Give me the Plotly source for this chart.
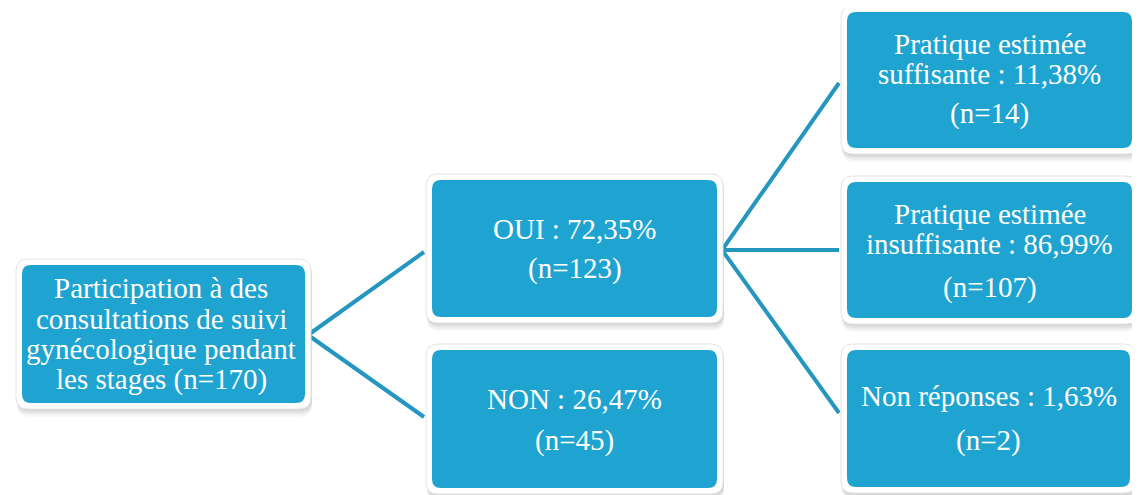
import plotly.graph_objects as go

# ---- data ----
root_lines = ["Participation à des", "consultations de suivi", "gynécologique pendant", "les stages"]
root_n = 170

level1_labels = ["OUI", "NON"]
level1_pct = [72.35, 26.47]
level1_n = [123, 45]

level2_prefix = ["Pratique estimée", "Pratique estimée", None]
level2_labels = ["suffisante", "insuffisante", "Non réponses"]
level2_pct = [11.38, 86.99, 1.63]
level2_n = [14, 107, 2]


def fr(v):
    return f"{v:.2f}".replace(".", ",")


W, H = 1140, 495
OFF = 8  # compensate default page body margin
BLUE = "#1fa3d0"
LINE = "#2496bf"
FONT = "Liberation Serif, Times New Roman, serif"

fig = go.Figure()
shapes = []
annotations = []


def rrect(x0, y0, x1, y1, r):
    return (f"M {x0+r},{y0} L {x1-r},{y0} Q {x1},{y0} {x1},{y0+r} "
            f"L {x1},{y1-r} Q {x1},{y1} {x1-r},{y1} L {x0+r},{y1} "
            f"Q {x0},{y1} {x0},{y1-r} L {x0},{y0+r} Q {x0},{y0} {x0+r},{y0} Z")


def box(x0, y0, x1, y1):
    # soft shadow
    for d, op in [(8, 0.05), (6, 0.07), (4, 0.09), (2, 0.10)]:
        shapes.append(dict(type="path", path=rrect(x0 - 6 + 1, y0 - 6 + d, x1 + 6 + 1, y1 + 6 + d, 12),
                           fillcolor=f"rgba(110,110,110,{op})", line=dict(width=0), layer="below"))
    # white frame
    shapes.append(dict(type="path", path=rrect(x0 - 6, y0 - 6, x1 + 6, y1 + 6, 12),
                       fillcolor="white", line=dict(color="#e4e4e4", width=1), layer="below"))
    shapes.append(dict(type="path", path=rrect(x0, y0, x1, y1, 9),
                       fillcolor=BLUE, line=dict(width=0), layer="below"))


def text(lines, xc, ys):
    for t, y in zip(lines, ys):
        annotations.append(dict(x=xc, y=y, xref="x", yref="y", text=t, showarrow=False,
                                xanchor="center", yanchor="middle",
                                font=dict(family=FONT, size=29, color="white")))


def connector(x0, y0, x1, y1):
    shapes.append(dict(type="line", x0=x0, y0=y0, x1=x1, y1=y1, xref="x", yref="y",
                       line=dict(color=LINE, width=4), layer="below"))


# connectors (drawn first so boxes sit on top)
connector(308, 335, 424, 252)
connector(308, 335, 424, 417)
connector(722, 250, 839, 83)
connector(722, 250, 839, 250)
connector(722, 250, 839, 413)

# root box
box(22, 265, 305, 403)
rl = root_lines[:-1] + [f"{root_lines[-1]} (n={root_n})"]
text(rl, 161, [288, 319, 349, 379])

# level 1
l1_boxes = [(432, 180, 717, 317), (432, 350, 717, 488)]
l1_ys = [[229, 268], [399, 440]]
for (x0, y0, x1, y1), lab, p, n, ys in zip(l1_boxes, level1_labels, level1_pct, level1_n, l1_ys):
    box(x0, y0, x1, y1)
    text([f"{lab} : {fr(p)}%", f"(n={n})"], (x0 + x1) / 2, ys)

# level 2
l2_boxes = [(847, 12, 1132, 148), (847, 182, 1132, 318), (847, 350, 1130, 487)]
l2_ys = [[44, 74, 113], [214, 244, 287], [396, 440]]
for (x0, y0, x1, y1), pre, lab, p, n, ys in zip(l2_boxes, level2_prefix, level2_labels, level2_pct, level2_n, l2_ys):
    box(x0, y0, x1, y1)
    lines = ([pre] if pre else []) + [f"{lab} : {fr(p)}%", f"(n={n})"]
    text(lines, (x0 + x1) / 2, ys)

fig.update_layout(
    width=W, height=H,
    margin=dict(l=0, r=0, t=0, b=0),
    paper_bgcolor="white", plot_bgcolor="white",
    xaxis=dict(range=[OFF, W + OFF], visible=False, fixedrange=True),
    yaxis=dict(range=[H + OFF, OFF], visible=False, fixedrange=True),
    shapes=shapes, annotations=annotations, showlegend=False,
)
fig.write_html("out.html")
